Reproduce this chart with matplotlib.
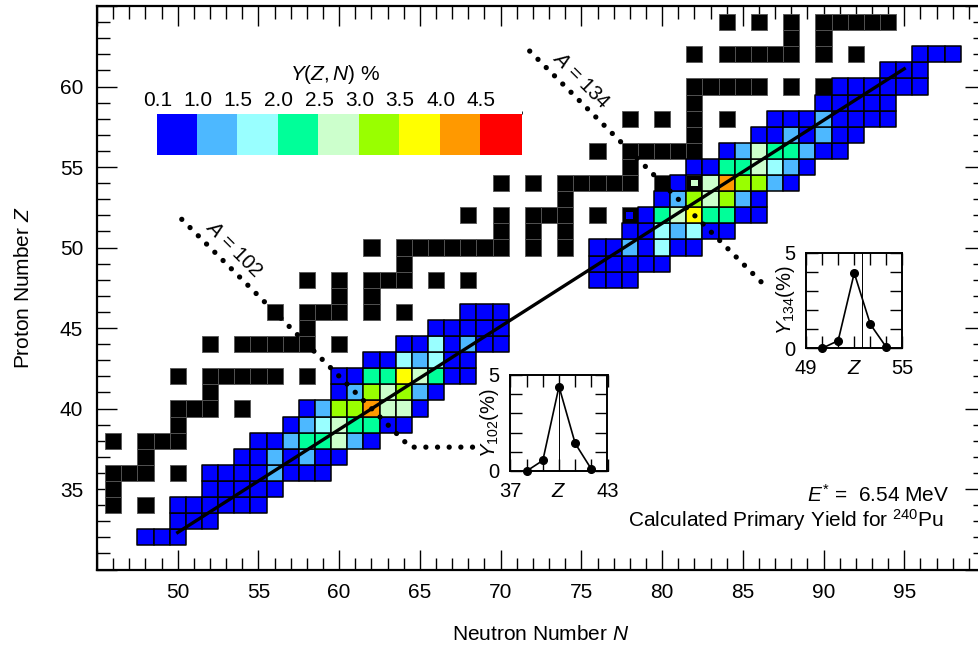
import matplotlib
matplotlib.use('Agg')
import matplotlib.pyplot as plt
import numpy as np
from matplotlib.colors import ListedColormap, BoundaryNorm
from matplotlib.collections import PatchCollection
from matplotlib.patches import Rectangle
from matplotlib.cm import ScalarMappable
from matplotlib.ticker import MultipleLocator

plt.rcParams['font.family'] = ['Liberation Sans', 'DejaVu Sans']
plt.rcParams['mathtext.fontset'] = 'custom'
plt.rcParams['mathtext.rm'] = 'Liberation Sans'
plt.rcParams['mathtext.it'] = 'Liberation Sans:italic'

# colour classes of the yield, in %
bounds = [0.1, 1.0, 1.5, 2.0, 2.5, 3.0, 3.5, 4.0, 4.5, 5.0]
colors = ['#0000ff', '#4db8ff', '#99ffff', '#00ff99', '#ccffcc',
          '#99ff00', '#ffff00', '#ff9900', '#ff0000']

# stable nuclei: Z -> list of N
stable = {
    34: [46, 48],
    35: [46],
    36: [46, 47, 48, 50],
    37: [48],
    38: [46, 48, 49, 50],
    39: [50],
    40: [50, 51, 52, 54],
    41: [52],
    42: [50, 52, 53, 54, 55, 56, 58],
    44: [52, 54, 55, 56, 57, 58, 60],
    45: [58],
    46: [56, 58, 59, 60, 62, 64],
    47: [60, 62],
    48: [58, 60, 62, 63, 64, 66, 68],
    49: [64],
    50: [62, 64, 65, 66, 67, 68, 69, 70, 72, 74],
    51: [70, 72, 74],
    52: [68, 70, 72, 73, 74, 76, 78],
    53: [74],
    54: [70, 72, 74, 75, 76, 77, 78, 80, 82],
    55: [78],
    56: [76, 78, 79, 80, 81, 82],
    57: [82],
    58: [78, 80, 82, 84],
    59: [82],
    60: [82, 83, 84, 85, 86, 88, 90],
    62: [82, 84, 85, 86, 87, 88, 90, 92],
    63: [88, 90],
    64: [84, 86, 88, 90, 91, 92, 93, 94],
}

# calculated primary yields Y(Z,N) in %: Z -> (first N, values along N)
yields = {
    32: (48, [0.3, 0.3, 0.3]),
    33: (50, [0.4, 0.4, 0.4]),
    34: (50, [0.4, 0.4, 0.5, 0.5, 0.4, 0.3]),
    35: (52, [0.5, 0.5, 0.6, 0.5, 0.4]),
    36: (52, [0.5, 0.6, 0.7, 0.8, 1.2, 0.8, 0.6, 0.4]),
    37: (54, [0.5, 0.8, 1.2, 0.9, 1.3, 0.7, 0.4]),
    38: (55, [0.4, 0.8, 1.2, 2.2, 2.3, 2.7, 1.2, 0.5]),
    39: (57, [0.6, 1.3, 1.8, 2.8, 2.2, 2.4, 0.55, 0.3]),
    40: (58, [0.5, 1.3, 3.2, 3.4, 4.4, 2.8, 2.6, 0.5]),
    41: (60, [0.6, 1.44, 3.3, 2.9, 3.2, 1.2, 0.5]),
    42: (60, [0.12, 0.7, 2.2, 2.4, 3.8, 2.7, 2.1, 0.8, 0.3]),
    43: (62, [0.3, 0.8, 1.7, 1.3, 1.6, 0.7, 0.3]),
    44: (64, [0.4, 0.6, 1.6, 0.9, 1.1, 0.6, 0.3]),
    45: (66, [0.3, 0.4, 0.5, 0.4, 0.2]),
    46: (68, [0.2, 0.3, 0.2]),
    48: (76, [0.2, 0.3, 0.4]),
    49: (76, [0.3, 0.4, 0.5, 0.6, 0.5]),
    50: (76, [0.4, 0.7, 1.2, 0.9, 1.6, 0.6, 0.3]),
    51: (78, [0.6, 0.9, 1.7, 1.3, 1.8, 0.4, 0.2]),
    52: (78, [0.5, 0.9, 2.3, 2.8, 3.95, 2.2, 2.1, 0.8, 0.4]),
    53: (80, [0.6, 1.26, 3.3, 2.9, 3.1, 1.2, 0.5]),
    54: (81, [0.8, 2.7, 2.8, 4.2, 3.3, 3.2, 1.3, 0.6]),
    55: (82, [0.5, 0.9, 2.3, 2.4, 2.7, 1.8, 1.2, 0.6]),
    56: (84, [0.7, 1.3, 2.6, 2.2, 2.1, 1.2, 0.6, 0.3]),
    57: (86, [0.5, 0.8, 1.1, 0.9, 1.1, 0.5, 0.3]),
    58: (87, [0.4, 0.6, 0.7, 1.1, 0.7, 0.5, 0.3, 0.2]),
    59: (90, [0.5, 0.6, 0.5, 0.3, 0.2]),
    60: (91, [0.4, 0.5, 0.4, 0.3, 0.2, 0.15]),
    61: (94, [0.3, 0.2, 0.15]),
    62: (96, [0.2, 0.15, 0.12]),
}

# isobaric charge distributions
a102_z = [38, 39, 40, 41, 42]
a102_y = [0.0, 0.55, 4.4, 1.44, 0.1]
a102_zp = 40.0
a134_z = [50, 51, 52, 53, 54]
a134_y = [0.0, 0.4, 3.95, 1.26, 0.05]
a134_zp = 52.5

# Z/N line of the compound nucleus and the isobar guides
line_n = [50.0, 95.0]
line_z = [32.3, 61.1]
iso102_n = [50.25, 64.4, 68.3]
iso102_z = [51.75, 37.6, 37.6]
iso134_n = [71.8, 86.4]
iso134_z = [62.2, 47.6]

cmap = ListedColormap(colors)
norm = BoundaryNorm(bounds, cmap.N)

fig = plt.figure(figsize=(9.79, 6.51), dpi=100)
ax = fig.add_axes([97 / 979, 81.5 / 651, 888 / 979, 563.5 / 651])
ax.set_xlim(45, 100)
ax.set_ylim(30, 65)

stable_cells = [(n, z) for z, ns in stable.items() for n in ns]
stable_set = set(stable_cells)
ax.add_collection(PatchCollection(
    [Rectangle((n - 0.5, z - 0.5), 1, 1) for n, z in stable_cells],
    facecolor='k', edgecolor='#555555', linewidth=0.6, zorder=2))

full, full_v, inner, inner_v = [], [], [], []
for z, (n0, vals) in yields.items():
    for i, v in enumerate(vals):
        n = n0 + i
        if (n, z) in stable_set:
            inner.append(Rectangle((n - 0.21, z - 0.21), 0.42, 0.42))
            inner_v.append(v)
        else:
            full.append(Rectangle((n - 0.5, z - 0.5), 1, 1))
            full_v.append(v)

pc = PatchCollection(full, cmap=cmap, norm=norm, edgecolor='k',
                     linewidth=1.1, zorder=3)
pc.set_array(np.array(full_v))
ax.add_collection(pc)
pc2 = PatchCollection(inner, cmap=cmap, norm=norm, edgecolor='none', zorder=3)
pc2.set_array(np.array(inner_v))
ax.add_collection(pc2)

ax.plot(line_n, line_z, color='k', lw=2.4, zorder=4)
for nn, zz in [(iso102_n, iso102_z), (iso134_n, iso134_z)]:
    ax.plot(nn, zz, color='k', lw=3.8, linestyle=(0, (0.01, 2.2)),
            dash_capstyle='round', zorder=5)

ax.text(53.44, 49.89, r'$A$ = 102', rotation=-45, rotation_mode='anchor',
        ha='center', va='center', fontsize=14.5)
ax.text(74.98, 60.4, r'$A$ = 134', rotation=-45, rotation_mode='anchor',
        ha='center', va='center', fontsize=14.5)
ax.text(88.96, 34.21, r'$E^{*}$ =  6.54 MeV', ha='left', va='baseline',
        fontsize=15)
ax.text(97.48, 32.66, r'Calculated Primary Yield for $^{240}$Pu',
        ha='right', va='baseline', fontsize=15)

xt = list(range(45, 101, 5))
yt = list(range(30, 66, 5))
ax.set_xticks(xt)
ax.set_xticklabels(['' if v in (45, 100) else str(v) for v in xt])
ax.set_yticks(yt)
ax.set_yticklabels(['' if v in (30, 65) else str(v) for v in yt])
ax.xaxis.set_minor_locator(MultipleLocator(1))
ax.yaxis.set_minor_locator(MultipleLocator(1))
ax.tick_params(which='both', direction='in', top=True, right=True,
               labelsize=15, pad=10, width=1)
ax.tick_params(which='major', length=14.4)
ax.tick_params(which='minor', length=9)
for s in ax.spines.values():
    s.set_linewidth(1.6)
ax.set_xlabel(r'Neutron Number $N$', fontsize=15)
ax.set_ylabel(r'Proton Number $Z$', fontsize=15)
ax.xaxis.set_label_coords(0.5, -0.098)
ax.yaxis.set_label_coords(-0.072, 0.5)

# colour scale
cax = fig.add_axes([157.3 / 979, 496 / 651, 364.4 / 979, 41 / 651])
cb = fig.colorbar(ScalarMappable(norm=norm, cmap=cmap), cax=cax,
                  orientation='horizontal', spacing='uniform',
                  ticks=bounds[:-1])
cb.outline.set_visible(False)
cb.solids.set_edgecolor('face')
cax.xaxis.set_ticks_position('top')
cax.tick_params(length=0, labelsize=15, pad=3)
cb.set_ticklabels([f'{b:.1f}' for b in bounds[:-1]])
fig.text(335 / 979, 1 - 75 / 651, r'$\mathit{Y(Z,N)}$ %', ha='center',
         va='center', fontsize=15)


def isobar_inset(rect, z, y, zp, zmin, zmax, label, lx):
    iax = fig.add_axes(rect)
    iax.plot(z, y, color='k', lw=1.2, marker='o', ms=5.5, clip_on=False,
             zorder=3)
    iax.axvline(zp, color='k', lw=0.7)
    iax.set_xlim(zmin, zmax)
    iax.set_ylim(0, 5)
    zt = list(range(zmin, zmax + 1))
    iax.set_xticks(zt)
    iax.set_xticklabels([str(zmin)] + [''] * 2 + ['$Z$'] + [''] * 2
                        + [str(zmax)])
    iax.set_yticks(range(6))
    iax.set_yticklabels(['0', '', '', '', '', '5'])
    iax.tick_params(direction='in', top=True, right=True, length=8.5,
                    width=1, labelsize=14.5, pad=8)
    for s in iax.spines.values():
        s.set_linewidth(1.4)
    iax.set_ylabel(label, fontsize=14.5)
    iax.yaxis.set_label_coords(lx, 0.5)
    return iax


isobar_inset([510.5 / 979, 180 / 651, 97 / 979, 96 / 651], a102_z, a102_y,
             a102_zp, 37, 43, r'$Y_{102}$(%)', -0.10)
isobar_inset([806 / 979, 302.7 / 651, 96.5 / 979, 95.3 / 651], a134_z,
             a134_y, a134_zp, 49, 55, r'$Y_{134}$(%)', -0.09)

fig.savefig('out.png', dpi=100)
